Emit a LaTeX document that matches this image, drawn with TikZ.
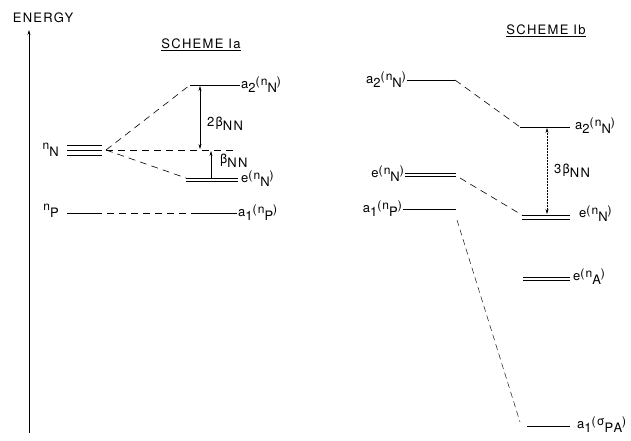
\documentclass[tikz,border=0pt]{standalone}
\usepackage{fontspec}
\setmainfont{TeX Gyre Heros}[LetterSpace=10]
\usetikzlibrary{arrows.meta}
\newcommand\dn[1]{\raisebox{-4.5pt}{#1}}
\newcommand\up[1]{\raisebox{2.5pt}{\fontsize{12}{12}\selectfont #1}}
\begin{document}
\begin{tikzpicture}[x=1pt,y=-1pt,
  lvl/.style={line width=0.9pt},
  dsh/.style={dash pattern=on 7pt off 5pt, line width=0.6pt},
  dsht/.style={dash pattern=on 6pt off 4pt, line width=0.45pt},
  lab/.style={font=\fontsize{13}{14}\selectfont, inner sep=1pt},
  arr/.style={line width=0.5pt, -{Stealth[length=5pt,width=3pt]}},
  darr/.style={line width=0.5pt, {Stealth[length=5pt,width=3pt]}-{Stealth[length=5pt,width=3pt]}}]
\useasboundingbox (0,0) rectangle (631,441);
% energy axis
\coordinate (axb) at (29,433);
\coordinate (axt) at (29,30);
\draw[arr] (axb) -- (axt);
\node[lab] (energy) at (43,18) {ENERGY};
% ---------- Scheme Ia
\node[lab] (ta) at (201,45) {\underline{SCHEME Ia}};
\coordinate (a2L) at (190,85); \coordinate (a2R) at (240,85);
\draw[lvl] (a2L) -- (a2R);
\node[lab, anchor=west] (la2) at (a2R) {a\dn{2}\up{(n}\dn{N}\up{)}};
\foreach \yy/\nm in {145/1,150/2,155/3}{
  \coordinate (nN\nm L) at (67,\yy); \coordinate (nN\nm R) at (102,\yy);
  \draw[lvl] (nN\nm L) -- (nN\nm R);}
\node[lab, anchor=east] (lnN) at (60,150) {\up{n}\dn{N}};
\coordinate (nNo) at (106,150);
\coordinate (midR) at (236,150);
\coordinate (e1L) at (186,178); \coordinate (e1R) at (238,178);
\coordinate (e2L) at (186,181); \coordinate (e2R) at (238,181);
\draw[lvl] (e1L) -- (e1R);
\draw[lvl] (e2L) -- (e2R);
\node[lab, anchor=west] (le) at (240,179) {e\up{(n}\dn{N}\up{)}};
\draw[dsh] (nNo) -- (a2L);
\draw[dsh] (nNo) -- (midR);
\draw[dsh] (nNo) -- (e1L);
\coordinate (b2t) at (200,86); \coordinate (b2b) at (200,149);
\draw[darr] (b2t) -- (b2b);
\node[lab, anchor=west] (l2b) at (206,124) {2β\dn{NN}};
\coordinate (b1b) at (211,178); \coordinate (b1t) at (211,151);
\draw[arr] (b1b) -- (b1t);
\node[lab, anchor=west] (l1b) at (219,161) {β\dn{NN}};
\coordinate (nPL) at (67,213); \coordinate (nPa) at (95,213);
\coordinate (nPb) at (195,213); \coordinate (nPR) at (237,213);
\draw[lvl] (nPL) -- (nPa);
\draw[dsh] (nPa) -- (nPb);
\draw[lvl] (nPb) -- (nPR);
\node[lab, anchor=east] (lnP) at (60,211) {\up{n}\dn{P}};
\node[lab, anchor=west] (la1) at (nPR) {a\dn{1}\up{(n}\dn{P}\up{)}};
% ---------- Scheme Ib
\node[lab] (tb) at (546,31) {\underline{SCHEME Ib}};
\coordinate (La2L) at (407,80); \coordinate (La2R) at (455,80);
\draw[lvl] (La2L) -- (La2R);
\node[lab, anchor=east] (lLa2) at (La2L) {a\dn{2}\up{(n}\dn{N}\up{)}};
\coordinate (Ra2L) at (520,127); \coordinate (Ra2R) at (570,127);
\draw[lvl] (Ra2L) -- (Ra2R);
\node[lab, anchor=west] (lRa2) at (574,126) {a\dn{2}\up{(n}\dn{N}\up{)}};
\draw[dsh] (La2R) -- (Ra2L);
\coordinate (Le1L) at (405,173); \coordinate (Le1R) at (456,173);
\coordinate (Le2L) at (405,176); \coordinate (Le2R) at (456,176);
\draw[lvl] (Le1L) -- (Le1R);
\draw[lvl] (Le2L) -- (Le2R);
\node[lab, anchor=east] (lLe) at (405,174) {e\up{(n}\dn{N}\up{)}};
\coordinate (Re1L) at (522,215); \coordinate (Re1R) at (570,215);
\coordinate (Re2L) at (522,219); \coordinate (Re2R) at (570,219);
\draw[lvl] (Re1L) -- (Re1R);
\draw[lvl] (Re2L) -- (Re2R);
\node[lab, anchor=west] (lRe) at (578,214) {e\up{(n}\dn{N}\up{)}};
\coordinate (Leo) at (460,178);
\draw[dsh] (Leo) -- (Re1L);
\coordinate (b3t) at (547,128); \coordinate (b3b) at (547,214);
\draw[darr, densely dotted] (b3t) -- (b3b);
\node[lab, anchor=west] (l3b) at (553,171) {3β\dn{NN}};
\coordinate (La1L) at (403,209); \coordinate (La1R) at (456,209);
\draw[lvl] (La1L) -- (La1R);
\node[lab, anchor=east] (lLa1) at (La1L) {a\dn{1}\up{(n}\dn{P}\up{)}};
\coordinate (eAL1) at (523,277); \coordinate (eAR1) at (570,277);
\coordinate (eAL2) at (523,280); \coordinate (eAR2) at (570,280);
\draw[lvl] (eAL1) -- (eAR1);
\draw[lvl] (eAL2) -- (eAR2);
\node[lab, anchor=west] (leA) at (572,277) {e\up{(n}\dn{A}\up{)}};
\coordinate (La1o) at (457,220);
\coordinate (sL) at (520,422);
\coordinate (sR) at (570,426);
\coordinate (sLL) at (527,426);
\draw[dsht] (La1o) -- (sL);
\draw[lvl] (sLL) -- (sR);
\node[lab, anchor=west] (ls) at (576,425) {a\dn{1}\up{(σ}\dn{PA}\up{)}};
\end{tikzpicture}
\end{document}
